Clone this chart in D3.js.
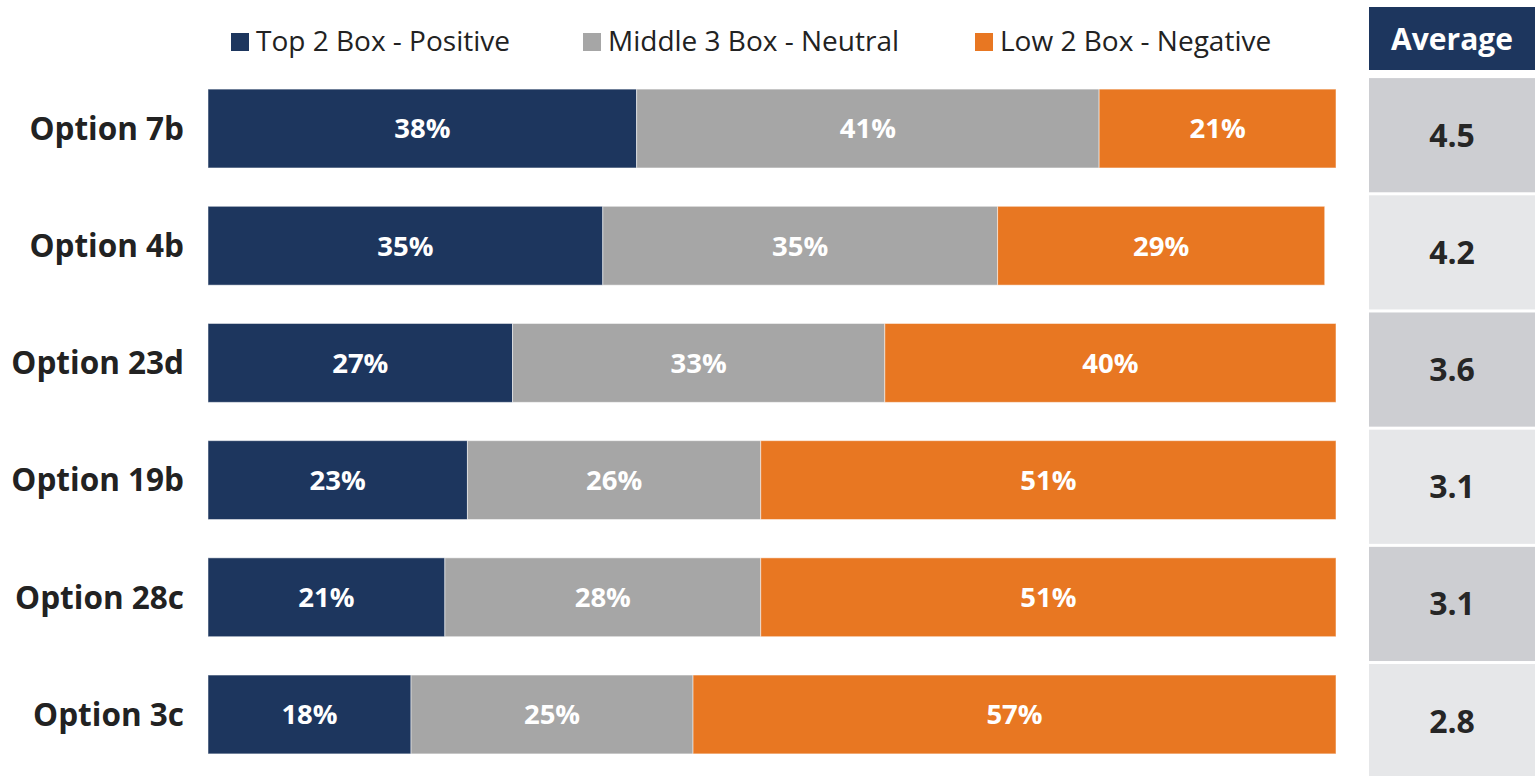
<!DOCTYPE html>
<html>
<head>
<meta charset="utf-8">
<script src="https://cdn.jsdelivr.net/npm/d3@7"></script>
<style>
  body { margin: 0; background: #fff; }
  svg { display: block; font-family: "Open Sans", sans-serif; }
</style>
</head>
<body>
<div id="content"></div>
<script>
// data
var options   = ["Option 7b", "Option 4b", "Option 23d", "Option 19b", "Option 28c", "Option 3c"];
var positive  = [38, 35, 27, 23, 21, 18];
var neutral   = [41, 35, 33, 26, 28, 25];
var negative  = [21, 29, 40, 51, 51, 57];
var averages  = [4.5, 4.2, 3.6, 3.1, 3.1, 2.8];
var seriesKeys   = ["pos", "neu", "neg"];
var seriesLabels = ["Top 2 Box - Positive", "Middle 3 Box - Neutral", "Low 2 Box - Negative"];

var width = 1536, height = 776;
var navy = '#1d365e', grey = '#a6a6a6', orange = '#e87722';
var colors = [navy, grey, orange];

var svg = d3.select("#content").append("svg")
    .attr("width", width)
    .attr("height", height);

var rows = options.map(function(o, i){
    return {name: o, pos: positive[i] / 100, neu: neutral[i] / 100, neg: negative[i] / 100, avg: averages[i]};
});

var x = d3.scaleLinear().domain([0, 1]).range([208, 1336]);
var y = d3.scaleBand().domain(options).range([70, 773]).paddingInner(0.327).paddingOuter(0.163);

var stacked = d3.stack().keys(seriesKeys)(rows);

//bars
var layer = svg.selectAll("g.layer").data(stacked).enter().append("g")
    .attr("class", "layer")
    .attr("fill", function(d, i){ return colors[i]; });

layer.selectAll("rect").data(function(d){ return d; }).enter().append("rect")
    .attr("x", function(d){ return x(d[0]); })
    .attr("y", function(d){ return y(d.data.name); })
    .attr("width", function(d){ return x(d[1]) - x(d[0]); })
    .attr("height", y.bandwidth())
    .attr("stroke", "#fff")
    .attr("stroke-opacity", 0.5)
    .attr("stroke-width", 1);

layer.selectAll("text").data(function(d){ return d; }).enter().append("text")
    .attr("x", function(d){ return (x(d[0]) + x(d[1])) / 2; })
    .attr("y", function(d){ return y(d.data.name) + y.bandwidth() / 2; })
    .attr("dy", "0.36em")
    .attr("text-anchor", "middle")
    .attr("fill", "#fff")
    .attr("font-weight", "bold")
    .attr("font-size", "27.5px")
    .text(function(d){ return Math.round((d[1] - d[0]) * 100) + "%"; });

//category labels
svg.selectAll("text.cat").data(options).enter().append("text")
    .attr("class", "cat")
    .attr("x", 184)
    .attr("y", function(d){ return y(d) + y.bandwidth() / 2; })
    .attr("dy", "0.36em")
    .attr("text-anchor", "end")
    .attr("fill", "#222")
    .attr("font-weight", "bold")
    .attr("font-size", "31.5px")
    .text(function(d){ return d; });

//legend
var legendX = [231, 583, 975];
var legend = svg.selectAll("g.legend").data(seriesLabels).enter().append("g")
    .attr("class", "legend")
    .attr("transform", function(d, i){ return "translate(" + legendX[i] + ",33)"; });
legend.append("rect")
    .attr("width", 18).attr("height", 18)
    .attr("fill", function(d, i){ return colors[i]; });
legend.append("text")
    .attr("x", 25).attr("y", 18)
    .attr("fill", "#222")
    .attr("font-size", "28px")
    .text(function(d){ return d; });

//average table
var tableX = 1369, tableW = 166;
svg.append("rect")
    .attr("x", tableX).attr("y", 7)
    .attr("width", tableW).attr("height", 63)
    .attr("fill", navy);
svg.append("text")
    .attr("x", tableX + tableW / 2).attr("y", 39)
    .attr("dy", "0.36em")
    .attr("text-anchor", "middle")
    .attr("fill", "#fff")
    .attr("font-weight", "bold")
    .attr("font-size", "30px")
    .text("Average");

var cellY = function(name){ return y(name) - 11; };
var cellH = y.step() - 3;

svg.selectAll("rect.cell").data(rows).enter().append("rect")
    .attr("class", "cell")
    .attr("x", tableX)
    .attr("y", function(d){ return cellY(d.name); })
    .attr("width", tableW)
    .attr("height", cellH)
    .attr("fill", function(d, i){ return i % 2 == 0 ? '#cdced2' : '#e6e7e9'; });

svg.selectAll("text.avg").data(rows).enter().append("text")
    .attr("class", "avg")
    .attr("x", tableX + tableW / 2)
    .attr("y", function(d){ return cellY(d.name) + cellH / 2; })
    .attr("dy", "0.36em")
    .attr("text-anchor", "middle")
    .attr("fill", "#262626")
    .attr("font-weight", "bold")
    .attr("font-size", "32px")
    .text(function(d){ return d.avg.toFixed(1); });
</script>
</body>
</html>
